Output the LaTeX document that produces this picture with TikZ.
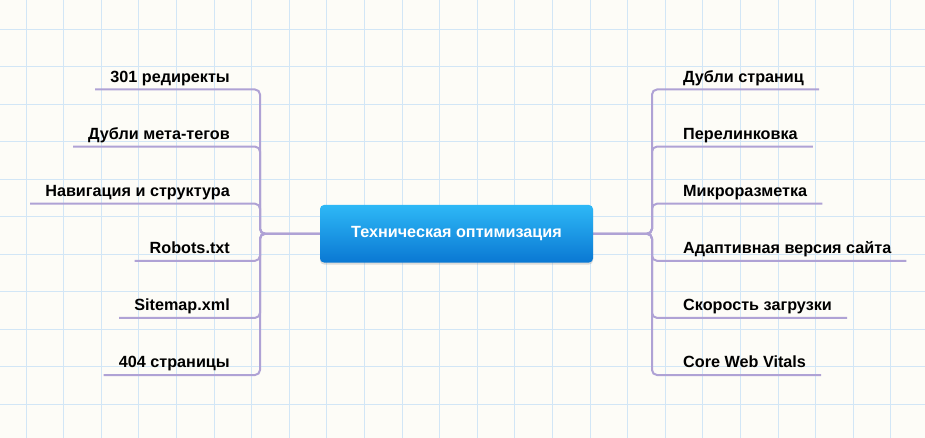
\documentclass[tikz,border=0pt]{standalone}
\usepackage{fontspec}
\setmainfont{Liberation Sans}
\usetikzlibrary{shadows}
\definecolor{paper}{HTML}{FDFCF7}
\definecolor{gridblue}{HTML}{D2E6F6}
\definecolor{branchc}{HTML}{AFA2D5}
\definecolor{boxtop}{HTML}{2EB8F6}
\definecolor{boxbot}{HTML}{0A78D3}
\begin{document}
\begin{tikzpicture}[x=1pt,y=-1pt,
	topic/.style={font=\fontsize{16.2}{19}\selectfont\bfseries,inner xsep=15pt,inner ysep=3pt,text depth=4pt},
	branch/.style={draw=branchc,line width=2pt,rounded corners=5pt}]
	\fill[paper] (0,0) rectangle (925,438);
	\useasboundingbox (0,0) rectangle (925,438);
	\foreach \i in {0,...,23} \draw[gridblue,line width=0.8pt] (26+37.6*\i,0)--(26+37.6*\i,438);
	\foreach \j in {0,...,10} \draw[gridblue,line width=0.8pt] (0,29+37.5*\j)--(925,29+37.5*\j);
	\coordinate (lt) at (260,233.75);
	\coordinate (rt) at (652,233.75);
	\foreach \t [count=\k from 0] in {301 редиректы,Дубли мета-тегов,Навигация и структура,Robots.txt,Sitemap.xml,404 страницы}
		\node[topic,anchor=south east] (l\k) at (245,89.5+57.1*\k) {\t};
	\foreach \t [count=\k from 0] in {Дубли страниц,Перелинковка,Микроразметка,Адаптивная версия сайта,Скорость загрузки,Core Web Vitals}
		\node[topic,anchor=south west] (r\k) at (668,89.5+57.1*\k) {\t};
	\foreach \k in {0,...,5} {
		\draw[branch] (456,233.75) -- (lt) |- (l\k.south west);
		\draw[branch] (456,233.75) -- (rt) |- (r\k.south east);
	}
	\node[minimum width=273pt,minimum height=57.5pt,rounded corners=4pt,top color=boxtop,bottom color=boxbot,
		drop shadow={opacity=0.25,shadow xshift=0pt,shadow yshift=-2pt},text=white,
		font=\fontsize{16.2}{19}\selectfont\bfseries] (ctr) at (456.5,233.75) {Техническая оптимизация};
\end{tikzpicture}
\end{document}
